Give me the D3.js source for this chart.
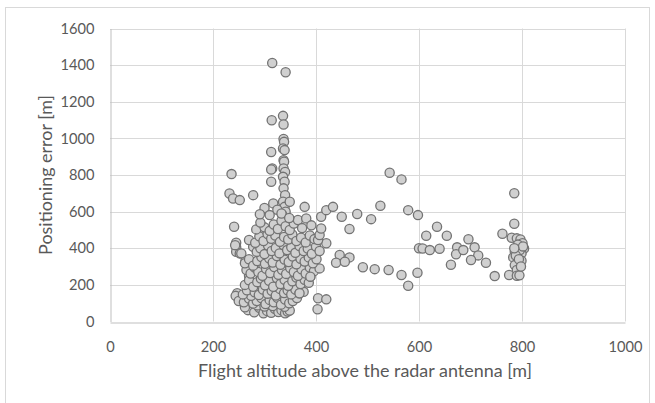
<!DOCTYPE html>
<html>
<head>
<meta charset="utf-8">
<script src="https://cdnjs.cloudflare.com/ajax/libs/d3/7.8.5/d3.min.js"></script>
<style>
  body { margin: 0; background: #fff; }
  svg { display: block; font-family: Lato, "Open Sans", sans-serif; }
</style>
</head>
<body>
<script>
// tick values
var xTicks = [0, 200, 400, 600, 800, 1000];
var yTicks = [0, 200, 400, 600, 800, 1000, 1200, 1400, 1600];

// [altitude, error] pairs, grouped by area of the plot
var leftPoints = [
  [236, 805], [232, 699], [239, 672], [252, 663], [278, 690], [241, 517],
  [245, 430], [245, 405], [245, 381], [252, 372], [243, 417], [263, 330],
  [270, 250], [247, 154], [252, 127], [255, 372], [244, 140], [250, 112]
];

var columnPoints = [
  [315, 1412], [341, 1361], [336, 1123], [314, 1099], [337, 1076], [337, 997],
  [338, 981], [313, 926], [336, 945], [339, 936], [337, 881], [338, 872],
  [315, 836], [337, 836], [313, 830], [340, 817], [336, 790], [313, 763],
  [339, 763], [337, 727], [340, 690], [336, 654], [339, 626], [341, 600],
  [335, 580], [317, 645], [349, 654], [378, 626], [300, 620], [325, 610]
];

var clusterPoints = [
  [268, 62], [280, 50], [290, 75], [298, 45], [305, 58], [313, 48], [320, 70],
  [327, 52], [333, 62], [340, 45], [345, 55], [349, 60], [286, 88], [300, 82],
  [316, 85], [339, 80], [262, 78],
  [260, 105], [270, 125], [278, 98], [285, 112], [294, 128], [302, 95],
  [310, 118], [318, 105], [325, 130], [332, 92], [340, 120], [348, 100],
  [355, 112], [363, 128], [274, 140],
  [258, 148], [266, 170], [281, 160], [289, 145], [297, 175], [306, 152],
  [314, 168], [322, 142], [330, 178], [338, 155], [345, 170], [352, 148],
  [360, 175], [368, 154], [376, 162],
  [262, 200], [270, 225], [278, 190], [286, 215], [293, 235], [301, 198],
  [309, 222], [317, 190], [324, 238], [331, 205], [339, 228], [346, 195],
  [354, 220], [362, 240], [370, 205], [378, 228], [386, 212], [389, 245],
  [265, 281], [273, 262], [281, 295], [288, 270], [296, 250], [303, 288],
  [311, 265], [319, 298], [327, 255], [334, 282], [342, 260], [350, 292],
  [357, 270], [365, 250], [372, 285], [380, 262], [388, 295], [396, 275],
  [407, 290],
  [262, 318], [270, 340], [278, 305], [286, 330], [294, 352], [301, 315],
  [309, 345], [316, 322], [324, 358], [331, 310], [339, 338], [347, 325],
  [355, 355], [362, 312], [370, 342], [378, 328], [386, 350], [394, 318],
  [401, 340],
  [278, 408], [285, 380], [292, 400], [300, 368], [307, 415], [314, 385],
  [322, 402], [329, 372], [337, 418], [344, 390], [352, 405], [360, 375],
  [368, 412], [376, 385], [384, 398], [392, 370], [400, 410], [407, 385],
  [420, 427],
  [270, 445], [282, 430], [290, 465], [298, 440], [306, 478], [313, 452],
  [321, 470], [330, 435], [338, 462], [346, 448], [354, 475], [362, 440],
  [371, 458], [380, 432], [388, 470], [397, 450], [404, 445], [407, 472],
  [284, 503], [300, 514], [292, 540], [310, 495], [318, 530], [326, 505],
  [333, 550], [341, 520], [349, 500], [357, 535], [365, 554], [373, 510],
  [381, 563], [391, 525], [410, 508], [291, 586], [310, 581], [333, 590],
  [348, 565]
];

var midPoints = [
  [410, 572], [420, 608], [433, 626], [450, 572], [480, 587], [507, 559],
  [525, 632], [543, 812], [566, 776], [579, 608], [598, 581], [465, 505],
  [446, 363], [465, 350], [439, 321], [456, 326], [491, 296], [514, 286],
  [541, 281], [566, 254], [579, 195], [597, 266], [600, 400], [389, 245],
  [368, 154], [404, 127], [420, 121], [403, 67],
  [614, 468], [635, 517], [654, 468], [607, 399], [621, 390], [640, 397],
  [674, 405], [672, 367], [686, 390], [696, 449], [708, 405], [715, 361],
  [701, 336], [662, 310], [730, 321], [747, 248], [762, 479]
];

var highPoints = [
  [785, 700], [785, 534], [780, 457], [790, 454], [797, 448], [801, 427],
  [804, 399], [799, 372], [786, 381], [783, 350], [799, 332], [786, 308],
  [790, 281], [775, 254], [790, 250], [795, 252], [792, 420], [796, 390],
  [788, 360], [802, 410], [794, 340], [785, 400], [798, 300]
];

var allPoints = leftPoints.concat(columnPoints, clusterPoints, midPoints, highPoints);

var W = 655, H = 403;
var plot = {left: 110, right: 625, top: 28.5, bottom: 321.5};

var svg = d3.select("body").append("svg")
    .attr("width", W)
    .attr("height", H);

// scale a text's font so it is about as wide as in the picture
function fitWidth(sel, target) {
  var size = parseFloat(sel.style("font-size"));
  var len = sel.node().getComputedTextLength();
  sel.style("font-size", (size * target / len).toFixed(2) + "px");
}

// chart frame
svg.append("rect")
    .attr("x", 5.5).attr("y", 7.5)
    .attr("width", 644).attr("height", 410)
    .attr("fill", "none")
    .attr("stroke", "#d9d9d9");

var x = d3.scaleLinear().domain([0, 1000]).range([plot.left, plot.right]);
var y = d3.scaleLinear().domain([0, 1600]).range([plot.bottom, plot.top]);

// gridlines
svg.append("g")
    .selectAll("line")
    .data(yTicks.slice(1))
    .enter().append("line")
    .attr("x1", plot.left).attr("x2", plot.right)
    .attr("y1", d => Math.round(y(d)) + 0.5).attr("y2", d => Math.round(y(d)) + 0.5)
    .attr("stroke", "#d9d9d9");

svg.append("g")
    .selectAll("line")
    .data(xTicks.slice(1))
    .enter().append("line")
    .attr("x1", d => Math.round(x(d)) + 0.5).attr("x2", d => Math.round(x(d)) + 0.5)
    .attr("y1", plot.top).attr("y2", plot.bottom)
    .attr("stroke", "#d9d9d9");

// axes (no tick marks, Excel style)
var xAxis = svg.append("g")
    .attr("transform", "translate(0," + (Math.round(plot.bottom) + 0.5) + ")")
    .call(d3.axisBottom(x).tickValues(xTicks).tickSize(0).tickPadding(19).tickFormat(d3.format("d")));
xAxis.select(".domain").attr("stroke", "#bfbfbf");

var yAxis = svg.append("g")
    .attr("transform", "translate(" + (Math.round(plot.left) + 0.5) + ",0)")
    .call(d3.axisLeft(y).tickValues(yTicks).tickSize(0).tickPadding(16).tickFormat(d3.format("d")));
yAxis.select(".domain").attr("stroke", "#bfbfbf");

svg.selectAll(".tick text")
    .attr("fill", "#595959")
    .style("font-size", "15px")
    .style("font-family", "Lato, 'Open Sans', sans-serif");

// "1600" is about 34px wide in the picture
var topLabel = yAxis.selectAll(".tick text").filter(d => d === 1600);
var tickSize = 15 * 34 / topLabel.node().getComputedTextLength();
svg.selectAll(".tick text").style("font-size", tickSize.toFixed(2) + "px");

// points
svg.append("g")
    .selectAll("circle")
    .data(allPoints)
    .enter().append("circle")
    .attr("cx", d => x(d[0]))
    .attr("cy", d => y(d[1]))
    .attr("r", 4.6)
    .attr("fill", "#d0d0d0")
    .attr("stroke", "#737373")
    .attr("stroke-width", 1.3);

// axis titles
var xTitle = svg.append("text")
    .attr("x", 365)
    .attr("y", 377)
    .attr("text-anchor", "middle")
    .attr("fill", "#595959")
    .style("font-size", "15px")
    .text("Flight altitude above the radar antenna [m]");
fitWidth(xTitle, 334);

var yTitle = svg.append("text")
    .attr("transform", "translate(52,175) rotate(-90)")
    .attr("text-anchor", "middle")
    .attr("fill", "#595959")
    .style("font-size", "15px")
    .text("Positioning error [m]");
fitWidth(yTitle, 160);
</script>
</body>
</html>
